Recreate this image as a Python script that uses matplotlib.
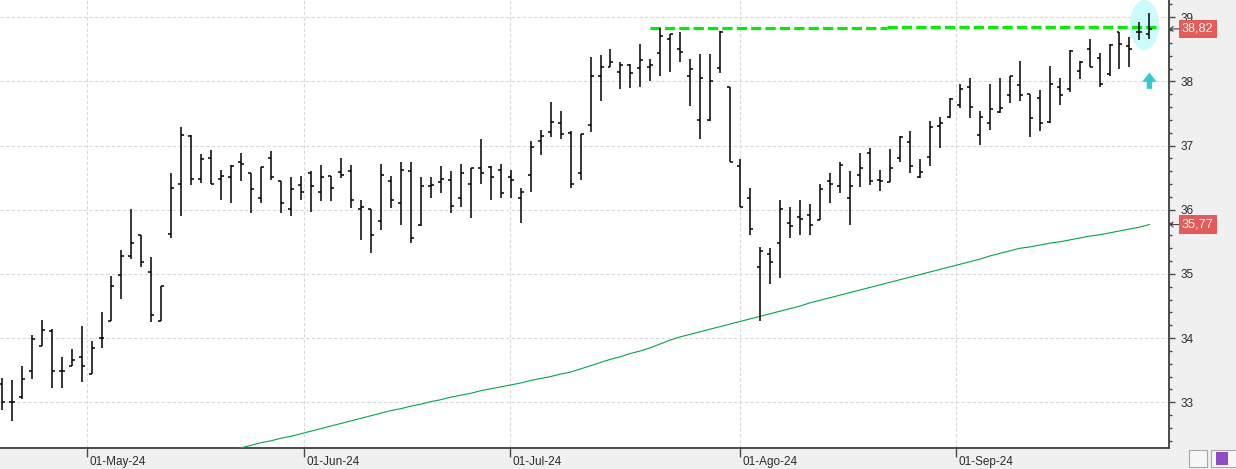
import numpy as np
import matplotlib.pyplot as plt
import matplotlib.transforms as mtransforms
from matplotlib.patches import Ellipse, Polygon, Rectangle

plt.rcParams['font.family'] = ['Liberation Sans', 'DejaVu Sans']

# daily OHLC (trading days, 19-Apr-24 .. 27-Sep-24)
opens = [33.29, 33.01, 33.08, 33.49, 33.87, 34.11, 33.49, 33.56, 33.70, 33.44,
         34.00, 34.27, 34.98, 35.28, 35.61, 35.03, 34.27, 35.63, 36.40, 37.15,
         36.48, 36.80, 36.48, 36.51, 36.75, 36.58, 36.19, 36.80, 36.45, 36.01,
         36.38, 36.58, 36.28, 36.52, 36.59, 36.61, 36.01, 36.01, 35.82, 36.45,
         36.11, 36.61, 35.77, 36.37, 36.43, 36.46, 36.19, 36.40, 36.65, 36.66,
         36.62, 36.51, 36.19, 36.54, 37.07, 37.22, 37.35, 37.20, 36.57, 37.32,
         38.09, 38.23, 38.14, 38.25, 38.21, 38.22, 38.44, 38.66, 38.50, 38.09,
         37.40, 37.40, 38.21, 37.91, 36.69, 36.18, 35.11, 35.31, 35.49, 35.80,
         35.89, 35.92, 35.84, 36.45, 36.37, 36.19, 36.54, 36.88, 36.46, 36.44,
         36.81, 37.06, 36.51, 36.82, 37.30, 37.44, 37.64, 37.91, 37.17, 37.35,
         37.52, 37.79, 37.94, 37.80, 37.74, 37.37, 37.91, 37.88, 38.16, 38.50,
         38.36, 38.12, 38.77, 38.55, 38.77, 38.74]
highs = [33.38, 33.35, 33.56, 34.05, 34.28, 34.14, 33.71, 33.83, 34.19, 33.95,
         34.40, 34.97, 35.38, 36.02, 35.61, 35.26, 34.81, 36.58, 37.29, 37.16,
         36.87, 36.93, 36.62, 36.70, 36.88, 36.58, 36.67, 36.92, 36.45, 36.51,
         36.52, 36.61, 36.70, 36.52, 36.80, 36.70, 36.15, 36.02, 36.72, 36.53,
         36.75, 36.75, 36.51, 36.51, 36.68, 36.61, 36.72, 36.65, 37.10, 36.68,
         36.72, 36.62, 36.34, 37.07, 37.24, 37.68, 37.54, 37.23, 37.18, 38.38,
         38.41, 38.51, 38.30, 38.28, 38.58, 38.35, 38.83, 38.74, 38.77, 38.35,
         38.43, 38.43, 38.79, 37.91, 36.79, 36.34, 35.42, 35.40, 36.15, 36.04,
         36.16, 36.09, 36.40, 36.58, 36.74, 36.61, 36.88, 36.96, 36.62, 36.94,
         37.15, 37.23, 36.79, 37.38, 37.44, 37.74, 37.96, 38.06, 37.54, 37.96,
         38.05, 38.09, 38.32, 37.80, 37.87, 38.24, 38.05, 38.49, 38.32, 38.66,
         38.44, 38.58, 38.77, 38.69, 38.92, 39.07]
lows = [32.88, 32.71, 33.05, 33.36, 33.87, 33.22, 33.23, 33.56, 33.32, 33.44,
        33.85, 34.27, 34.61, 35.24, 35.11, 34.25, 34.26, 35.56, 35.91, 36.38,
        36.42, 36.40, 36.15, 36.11, 36.45, 35.95, 36.11, 36.46, 35.95, 35.91,
        36.15, 35.96, 36.14, 36.14, 36.50, 36.03, 35.53, 35.33, 35.68, 36.03,
        35.77, 35.48, 35.74, 36.19, 36.26, 35.95, 36.05, 35.87, 36.40, 36.15,
        36.18, 36.19, 35.80, 36.28, 36.86, 37.14, 37.10, 36.34, 36.46, 37.22,
        37.70, 38.23, 37.88, 37.90, 37.92, 38.01, 38.08, 38.15, 38.30, 37.62,
        37.10, 37.39, 38.13, 36.74, 36.04, 35.60, 34.26, 34.84, 34.94, 35.56,
        35.60, 35.60, 35.84, 36.10, 36.26, 35.77, 36.36, 36.38, 36.30, 36.44,
        36.74, 36.58, 36.50, 36.69, 36.97, 37.43, 37.58, 37.43, 37.01, 37.24,
        37.51, 37.67, 37.70, 37.14, 37.23, 37.35, 37.64, 37.84, 38.04, 38.22,
        37.91, 38.09, 38.19, 38.23, 38.64, 38.66]
closes = [33.00, 33.00, 33.37, 33.98, 34.13, 33.49, 33.49, 33.66, 33.57, 33.85,
          34.00, 34.81, 35.28, 35.49, 35.18, 34.36, 34.81, 36.34, 37.16, 36.48,
          36.79, 36.40, 36.52, 36.69, 36.72, 36.32, 36.67, 36.51, 36.10, 36.32,
          36.27, 36.37, 36.51, 36.34, 36.54, 36.15, 36.05, 35.61, 36.54, 36.15,
          36.62, 35.56, 36.37, 36.39, 36.48, 36.06, 36.58, 36.65, 36.58, 36.51,
          36.26, 36.46, 36.27, 36.98, 37.15, 37.37, 37.18, 36.40, 37.18, 38.09,
          38.22, 38.30, 38.25, 38.13, 38.34, 38.25, 38.71, 38.74, 38.46, 38.19,
          38.06, 38.01, 38.77, 36.74, 36.05, 35.70, 35.35, 35.19, 36.02, 35.75,
          35.85, 35.77, 36.32, 36.40, 36.70, 36.37, 36.65, 36.45, 36.45, 36.65,
          37.13, 36.68, 36.59, 37.29, 37.36, 37.73, 37.88, 37.60, 37.44, 37.57,
          37.58, 38.08, 37.79, 37.43, 37.35, 37.96, 37.79, 38.48, 38.31, 38.23,
          37.96, 38.57, 38.58, 38.50, 38.77, 38.82]

# long moving average, from bar 22 onwards (earlier values are below the chart)
ma_start = 22
ma = [32.22, 32.26, 32.29, 32.33, 32.37, 32.40, 32.44, 32.47, 32.51, 32.55,
      32.59, 32.63, 32.67, 32.71, 32.75, 32.79, 32.83, 32.87, 32.90, 32.94,
      32.97, 33.01, 33.04, 33.08, 33.11, 33.14, 33.18, 33.21, 33.24, 33.27,
      33.30, 33.34, 33.37, 33.40, 33.44, 33.47, 33.52, 33.57, 33.62, 33.67,
      33.71, 33.76, 33.80, 33.85, 33.91, 33.97, 34.02, 34.06, 34.10, 34.14,
      34.18, 34.22, 34.26, 34.30, 34.34, 34.38, 34.42, 34.46, 34.50, 34.55,
      34.59, 34.63, 34.67, 34.71, 34.75, 34.79, 34.83, 34.87, 34.91, 34.95,
      34.99, 35.03, 35.07, 35.11, 35.15, 35.19, 35.23, 35.28, 35.32, 35.36,
      35.40, 35.42, 35.45, 35.48, 35.50, 35.53, 35.56, 35.59, 35.61, 35.64,
      35.67, 35.70, 35.73, 35.77]

# resistance line (two drawn segments)
res_start = [65, 88.7]
res_end = [88.7, 116]
res_level = [38.83, 38.85]

month_pos = [8.58, 30.32, 50.96, 74.0, 95.65]
month_labels = ['01-May-24', '01-Jun-24', '01-Jul-24', '01-Ago-24', '01-Sep-24']

W, H = 1236, 469
fig = plt.figure(figsize=(W / 100, H / 100), dpi=100, facecolor='#f0f0f0')
ax = fig.add_axes([0, 21 / H, 1169 / W, 448 / H])
ax.set_facecolor('white')

x = np.arange(len(closes))
tk = 0.3
ax.vlines(x, lows, highs, color='black', lw=1.1, zorder=4)
ax.hlines(opens, x - tk, x, color='black', lw=1.1, zorder=4)
ax.hlines(closes, x, x + tk, color='black', lw=1.1, zorder=4)

xm = np.arange(ma_start, ma_start + len(ma))
ax.plot(xm, ma, color='#00a651', lw=0.8, zorder=3)

for a, b, lvl in zip(res_start, res_end, res_level):
    ax.plot([a, b], [lvl, lvl], color='#00ee00', lw=2.3, dashes=(3.2, 1.3), zorder=3)

# highlight around last bars
ax.add_patch(Ellipse((x[-1] - 0.5, res_level[-1] + 0.03), 2.9, 0.78,
                     facecolor='#ccfbfd', edgecolor='none', zorder=1))
# buy arrow under the last bar
ax_x = x[-1]
top = lows[-1] - 0.52
hb = top - 0.145
bot = top - 0.255
ax.add_patch(Polygon([(ax_x - 0.27, bot), (ax_x - 0.27, hb), (ax_x - 0.72, hb), (ax_x, top),
                      (ax_x + 0.72, hb), (ax_x + 0.27, hb), (ax_x + 0.27, bot)],
                     closed=True, facecolor='#33cccc', edgecolor='none', zorder=5))

ax.set_xlim(-0.17, 116.96)
ax.set_ylim(32.287, 39.27)

for s in ['left', 'top']:
    ax.spines[s].set_visible(False)
for s in ['right', 'bottom']:
    ax.spines[s].set_color('#4a4a4a')
    ax.spines[s].set_linewidth(1.4)

ax.yaxis.tick_right()
ax.set_yticks(np.arange(33, 40))
ax.set_yticklabels([str(v) for v in range(33, 40)])
ax.set_yticks(np.arange(32.4, 39.3, 0.2), minor=True)
ax.tick_params(axis='y', which='major', length=4.5, width=1, color='#4a4a4a',
               pad=3.5, labelsize=8.5, labelcolor='#2b2b2b')
ax.tick_params(axis='y', which='minor', length=2.3, width=1, color='#4a4a4a')

ax.set_xticks(month_pos)
ax.set_xticklabels(month_labels)
ax.tick_params(axis='x', length=6.5, width=1, color='#4a4a4a', pad=-1,
               labelsize=8.5, labelcolor='#2b2b2b')
off = mtransforms.ScaledTranslation(2 / 100, 0, fig.dpi_scale_trans)
for lab in ax.get_xticklabels():
    lab.set_ha('left')
    lab.set_transform(lab.get_transform() + off)

ax.grid(True, which='major', color='#d9d9d9', ls=(0, (3, 2)), lw=0.8)
ax.set_axisbelow(True)

# price labels on the axis
for v in [closes[-1], ma[-1]]:
    ax.annotate(f'{v:.2f}'.replace('.', ','), xy=(1, v),
                xycoords=('axes fraction', 'data'), xytext=(9.3, 0),
                textcoords='offset points', ha='left', va='center',
                fontsize=9.2, color='white', annotation_clip=False,
                bbox=dict(boxstyle='square,pad=0.24', fc='#e65a5a', ec='none'),
                arrowprops=dict(arrowstyle='->,head_length=0.25,head_width=0.18',
                                color='#444444', lw=0.8, shrinkA=0, shrinkB=0),
                zorder=10)

# small toolbar buttons bottom right
fig.patches.append(Rectangle((1189 / W, 2 / H), 18 / W, 17 / H, transform=fig.transFigure,
                             fc='#f7f7f7', ec='#a8a8a8', lw=0.8))
fig.patches.append(Rectangle((1211 / W, 2 / H), 30 / W, 17 / H, transform=fig.transFigure,
                             fc='#f7f7f7', ec='#a8a8a8', lw=0.8))
fig.patches.append(Rectangle((1216 / W, 4 / H), 12 / W, 13 / H, transform=fig.transFigure,
                             fc='#8a4fc7', ec='none'))

fig.savefig('out.png', dpi=100, facecolor=fig.get_facecolor())
